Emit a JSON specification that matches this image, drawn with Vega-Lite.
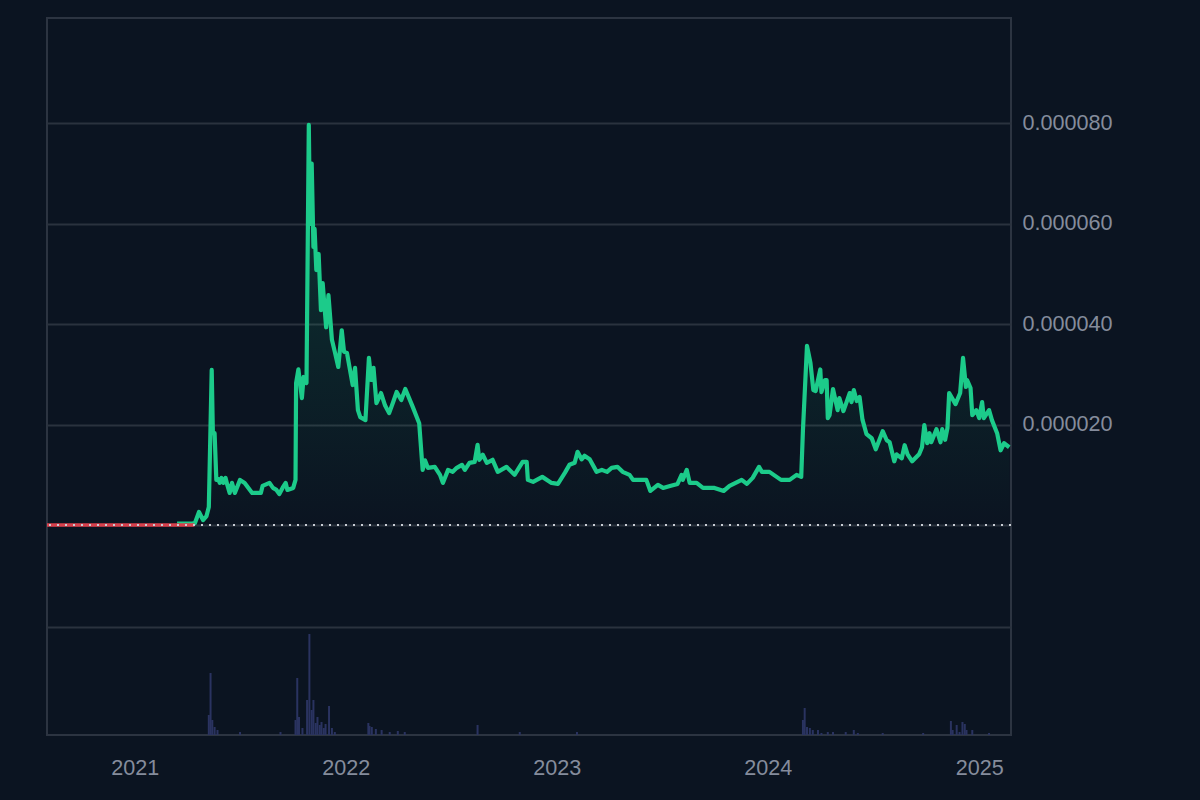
{
  "$schema": "https://vega.github.io/schema/vega-lite/v6.json",
  "width": 964,
  "height": 717,
  "autosize": {"type": "none"},
  "padding": {"left": 47, "top": 18, "right": 189, "bottom": 65},
  "background": "#0b1421",
  "config": {
    "view": {"stroke": "#2c3441", "strokeWidth": 2},
    "font": "Liberation Sans"
  },
  "datasets": {
    "flat": [
      {"date": "2020-08-02", "price": 0.00000002},
      {"date": "2020-10-01", "price": 0.00000002},
      {"date": "2020-12-01", "price": 0.00000002},
      {"date": "2021-02-01", "price": 0.00000002},
      {"date": "2021-03-20", "price": 0.00000002},
      {"date": "2021-04-14", "price": 0.00000004}
    ],
    "price": [
      {"date": "2021-03-15", "price": 0.0000003},
      {"date": "2021-04-10", "price": 0.0000003},
      {"date": "2021-04-15", "price": 0.0000004},
      {"date": "2021-04-22", "price": 0.0000026},
      {"date": "2021-04-29", "price": 0.000001},
      {"date": "2021-05-05", "price": 0.0000018},
      {"date": "2021-05-09", "price": 0.0000036},
      {"date": "2021-05-14", "price": 0.0000309},
      {"date": "2021-05-16", "price": 0.0000183},
      {"date": "2021-05-19", "price": 0.0000183},
      {"date": "2021-05-22", "price": 0.000009},
      {"date": "2021-05-25", "price": 0.0000092},
      {"date": "2021-05-28", "price": 0.0000084},
      {"date": "2021-05-31", "price": 0.0000094},
      {"date": "2021-06-03", "price": 0.0000084},
      {"date": "2021-06-07", "price": 0.0000094},
      {"date": "2021-06-10", "price": 0.000008},
      {"date": "2021-06-14", "price": 0.0000064},
      {"date": "2021-06-18", "price": 0.0000084},
      {"date": "2021-06-23", "price": 0.0000064},
      {"date": "2021-07-02", "price": 0.000009},
      {"date": "2021-07-10", "price": 0.0000084},
      {"date": "2021-07-23", "price": 0.0000064},
      {"date": "2021-08-07", "price": 0.0000064},
      {"date": "2021-08-10", "price": 0.0000078},
      {"date": "2021-08-22", "price": 0.0000084},
      {"date": "2021-08-28", "price": 0.0000074},
      {"date": "2021-09-03", "price": 0.000007},
      {"date": "2021-09-08", "price": 0.0000062},
      {"date": "2021-09-14", "price": 0.0000075},
      {"date": "2021-09-19", "price": 0.0000084},
      {"date": "2021-09-22", "price": 0.000007},
      {"date": "2021-10-02", "price": 0.0000074},
      {"date": "2021-10-06", "price": 0.000009},
      {"date": "2021-10-07", "price": 0.0000283},
      {"date": "2021-10-11", "price": 0.000031},
      {"date": "2021-10-17", "price": 0.0000253},
      {"date": "2021-10-20", "price": 0.0000295},
      {"date": "2021-10-25", "price": 0.0000283},
      {"date": "2021-10-29", "price": 0.0000797},
      {"date": "2021-10-31", "price": 0.00006},
      {"date": "2021-11-03", "price": 0.000072},
      {"date": "2021-11-06", "price": 0.0000554},
      {"date": "2021-11-08", "price": 0.000059},
      {"date": "2021-11-11", "price": 0.0000508},
      {"date": "2021-11-15", "price": 0.000054},
      {"date": "2021-11-19", "price": 0.0000428},
      {"date": "2021-11-22", "price": 0.0000482},
      {"date": "2021-11-28", "price": 0.0000394},
      {"date": "2021-12-02", "price": 0.0000458},
      {"date": "2021-12-08", "price": 0.0000369},
      {"date": "2021-12-13", "price": 0.0000345},
      {"date": "2021-12-19", "price": 0.0000315},
      {"date": "2021-12-25", "price": 0.0000388},
      {"date": "2021-12-29", "price": 0.0000345},
      {"date": "2022-01-03", "price": 0.0000343},
      {"date": "2022-01-13", "price": 0.0000279},
      {"date": "2022-01-17", "price": 0.0000313},
      {"date": "2022-01-22", "price": 0.0000229},
      {"date": "2022-01-26", "price": 0.0000215},
      {"date": "2022-02-04", "price": 0.0000209},
      {"date": "2022-02-10", "price": 0.0000333},
      {"date": "2022-02-14", "price": 0.0000289},
      {"date": "2022-02-18", "price": 0.0000313},
      {"date": "2022-02-23", "price": 0.0000243},
      {"date": "2022-03-03", "price": 0.0000263},
      {"date": "2022-03-10", "price": 0.0000238},
      {"date": "2022-03-17", "price": 0.0000223},
      {"date": "2022-03-24", "price": 0.0000245},
      {"date": "2022-03-30", "price": 0.0000265},
      {"date": "2022-04-07", "price": 0.0000249},
      {"date": "2022-04-14", "price": 0.0000271},
      {"date": "2022-04-27", "price": 0.0000235},
      {"date": "2022-05-08", "price": 0.0000203},
      {"date": "2022-05-14", "price": 0.000011},
      {"date": "2022-05-18", "price": 0.0000129},
      {"date": "2022-05-23", "price": 0.0000114},
      {"date": "2022-06-04", "price": 0.0000116},
      {"date": "2022-06-13", "price": 0.00001},
      {"date": "2022-06-18", "price": 0.0000084},
      {"date": "2022-06-27", "price": 0.000011},
      {"date": "2022-07-05", "price": 0.0000106},
      {"date": "2022-07-12", "price": 0.0000114},
      {"date": "2022-07-21", "price": 0.000012},
      {"date": "2022-07-26", "price": 0.000011},
      {"date": "2022-08-03", "price": 0.0000124},
      {"date": "2022-08-12", "price": 0.0000126},
      {"date": "2022-08-17", "price": 0.000016},
      {"date": "2022-08-20", "price": 0.000013},
      {"date": "2022-08-26", "price": 0.000014},
      {"date": "2022-09-02", "price": 0.0000124},
      {"date": "2022-09-12", "price": 0.000013},
      {"date": "2022-09-21", "price": 0.0000106},
      {"date": "2022-10-06", "price": 0.0000116},
      {"date": "2022-10-20", "price": 0.00001},
      {"date": "2022-11-03", "price": 0.0000126},
      {"date": "2022-11-10", "price": 0.0000126},
      {"date": "2022-11-12", "price": 0.000009},
      {"date": "2022-11-21", "price": 0.0000086},
      {"date": "2022-12-07", "price": 0.0000096},
      {"date": "2022-12-23", "price": 0.0000084},
      {"date": "2023-01-03", "price": 0.0000082},
      {"date": "2023-01-15", "price": 0.0000104},
      {"date": "2023-01-23", "price": 0.000012},
      {"date": "2023-02-01", "price": 0.0000124},
      {"date": "2023-02-06", "price": 0.0000146},
      {"date": "2023-02-13", "price": 0.0000131},
      {"date": "2023-02-18", "price": 0.0000138},
      {"date": "2023-02-27", "price": 0.0000131},
      {"date": "2023-03-11", "price": 0.0000106},
      {"date": "2023-03-20", "price": 0.000011},
      {"date": "2023-03-29", "price": 0.0000106},
      {"date": "2023-04-06", "price": 0.0000114},
      {"date": "2023-04-16", "price": 0.0000116},
      {"date": "2023-04-25", "price": 0.0000106},
      {"date": "2023-05-07", "price": 0.00001},
      {"date": "2023-05-13", "price": 0.000009},
      {"date": "2023-06-05", "price": 0.000009},
      {"date": "2023-06-12", "price": 0.0000068},
      {"date": "2023-06-25", "price": 0.000008},
      {"date": "2023-07-04", "price": 0.0000074},
      {"date": "2023-07-16", "price": 0.0000078},
      {"date": "2023-07-29", "price": 0.0000082},
      {"date": "2023-08-05", "price": 0.00001},
      {"date": "2023-08-07", "price": 0.000009},
      {"date": "2023-08-14", "price": 0.000011},
      {"date": "2023-08-19", "price": 0.0000084},
      {"date": "2023-08-31", "price": 0.0000084},
      {"date": "2023-09-11", "price": 0.0000074},
      {"date": "2023-10-01", "price": 0.0000074},
      {"date": "2023-10-17", "price": 0.0000068},
      {"date": "2023-10-27", "price": 0.0000078},
      {"date": "2023-11-17", "price": 0.000009},
      {"date": "2023-11-26", "price": 0.0000082},
      {"date": "2023-12-06", "price": 0.0000094},
      {"date": "2023-12-17", "price": 0.0000116},
      {"date": "2023-12-22", "price": 0.0000106},
      {"date": "2024-01-04", "price": 0.0000106},
      {"date": "2024-01-24", "price": 0.000009},
      {"date": "2024-02-08", "price": 0.000009},
      {"date": "2024-02-20", "price": 0.00001},
      {"date": "2024-02-28", "price": 0.0000096},
      {"date": "2024-03-02", "price": 0.0000189},
      {"date": "2024-03-09", "price": 0.0000357},
      {"date": "2024-03-15", "price": 0.0000323},
      {"date": "2024-03-20", "price": 0.0000269},
      {"date": "2024-03-24", "price": 0.0000267},
      {"date": "2024-04-01", "price": 0.000031},
      {"date": "2024-04-03", "price": 0.0000265},
      {"date": "2024-04-09", "price": 0.0000289},
      {"date": "2024-04-12", "price": 0.0000289},
      {"date": "2024-04-14", "price": 0.0000213},
      {"date": "2024-04-17", "price": 0.0000219},
      {"date": "2024-04-23", "price": 0.0000271},
      {"date": "2024-05-01", "price": 0.0000229},
      {"date": "2024-05-04", "price": 0.0000253},
      {"date": "2024-05-11", "price": 0.0000227},
      {"date": "2024-05-22", "price": 0.0000263},
      {"date": "2024-05-25", "price": 0.0000245},
      {"date": "2024-05-29", "price": 0.0000269},
      {"date": "2024-06-03", "price": 0.0000247},
      {"date": "2024-06-08", "price": 0.0000255},
      {"date": "2024-06-13", "price": 0.000021},
      {"date": "2024-06-20", "price": 0.0000181},
      {"date": "2024-06-29", "price": 0.0000173},
      {"date": "2024-07-06", "price": 0.0000151},
      {"date": "2024-07-18", "price": 0.0000187},
      {"date": "2024-07-25", "price": 0.0000169},
      {"date": "2024-07-30", "price": 0.0000165},
      {"date": "2024-08-07", "price": 0.0000127},
      {"date": "2024-08-11", "price": 0.0000141},
      {"date": "2024-08-20", "price": 0.0000133},
      {"date": "2024-08-25", "price": 0.0000159},
      {"date": "2024-08-30", "price": 0.0000141},
      {"date": "2024-09-07", "price": 0.0000127},
      {"date": "2024-09-19", "price": 0.0000141},
      {"date": "2024-09-24", "price": 0.0000155},
      {"date": "2024-09-28", "price": 0.0000199},
      {"date": "2024-10-03", "price": 0.0000163},
      {"date": "2024-10-07", "price": 0.0000183},
      {"date": "2024-10-10", "price": 0.0000165},
      {"date": "2024-10-19", "price": 0.0000191},
      {"date": "2024-10-26", "price": 0.0000165},
      {"date": "2024-10-29", "price": 0.0000191},
      {"date": "2024-11-03", "price": 0.000017},
      {"date": "2024-11-07", "price": 0.0000193},
      {"date": "2024-11-10", "price": 0.0000263},
      {"date": "2024-11-21", "price": 0.0000241},
      {"date": "2024-11-29", "price": 0.0000263},
      {"date": "2024-12-04", "price": 0.0000333},
      {"date": "2024-12-09", "price": 0.0000275},
      {"date": "2024-12-11", "price": 0.0000289},
      {"date": "2024-12-17", "price": 0.0000273},
      {"date": "2024-12-20", "price": 0.0000219},
      {"date": "2024-12-27", "price": 0.0000229},
      {"date": "2025-01-01", "price": 0.0000213},
      {"date": "2025-01-06", "price": 0.0000245},
      {"date": "2025-01-09", "price": 0.0000213},
      {"date": "2025-01-18", "price": 0.0000229},
      {"date": "2025-01-23", "price": 0.0000209},
      {"date": "2025-02-01", "price": 0.0000183},
      {"date": "2025-02-07", "price": 0.0000149},
      {"date": "2025-02-13", "price": 0.0000163},
      {"date": "2025-02-22", "price": 0.0000155}
    ],
    "volume": [
      {"date": "2021-05-09", "volume": 20},
      {"date": "2021-05-12", "volume": 62},
      {"date": "2021-05-15", "volume": 15},
      {"date": "2021-05-19", "volume": 8},
      {"date": "2021-05-24", "volume": 5},
      {"date": "2021-07-02", "volume": 3},
      {"date": "2021-09-10", "volume": 3},
      {"date": "2021-10-06", "volume": 15},
      {"date": "2021-10-09", "volume": 57},
      {"date": "2021-10-12", "volume": 18},
      {"date": "2021-10-18", "volume": 7},
      {"date": "2021-10-26", "volume": 35},
      {"date": "2021-10-30", "volume": 101},
      {"date": "2021-11-03", "volume": 25},
      {"date": "2021-11-06", "volume": 35},
      {"date": "2021-11-10", "volume": 12},
      {"date": "2021-11-13", "volume": 18},
      {"date": "2021-11-17", "volume": 10},
      {"date": "2021-11-20", "volume": 13},
      {"date": "2021-11-24", "volume": 7},
      {"date": "2021-11-27", "volume": 11},
      {"date": "2021-12-03", "volume": 29},
      {"date": "2021-12-08", "volume": 7},
      {"date": "2021-12-13", "volume": 3},
      {"date": "2022-02-09", "volume": 12},
      {"date": "2022-02-11", "volume": 9},
      {"date": "2022-02-15", "volume": 8},
      {"date": "2022-02-22", "volume": 6},
      {"date": "2022-03-04", "volume": 5},
      {"date": "2022-03-18", "volume": 3},
      {"date": "2022-04-01", "volume": 4},
      {"date": "2022-04-13", "volume": 3},
      {"date": "2022-08-17", "volume": 10},
      {"date": "2022-10-29", "volume": 3},
      {"date": "2023-02-05", "volume": 3},
      {"date": "2024-03-02", "volume": 15},
      {"date": "2024-03-05", "volume": 27},
      {"date": "2024-03-09", "volume": 8},
      {"date": "2024-03-14", "volume": 7},
      {"date": "2024-03-19", "volume": 5},
      {"date": "2024-03-28", "volume": 5},
      {"date": "2024-04-03", "volume": 2},
      {"date": "2024-04-14", "volume": 3},
      {"date": "2024-04-23", "volume": 3},
      {"date": "2024-05-15", "volume": 3},
      {"date": "2024-05-29", "volume": 5},
      {"date": "2024-06-05", "volume": 2},
      {"date": "2024-07-18", "volume": 2},
      {"date": "2024-09-26", "volume": 2},
      {"date": "2024-11-13", "volume": 14},
      {"date": "2024-11-16", "volume": 5},
      {"date": "2024-11-23", "volume": 10},
      {"date": "2024-11-28", "volume": 3},
      {"date": "2024-12-03", "volume": 13},
      {"date": "2024-12-07", "volume": 11},
      {"date": "2024-12-10", "volume": 5},
      {"date": "2024-12-20", "volume": 5},
      {"date": "2025-01-18", "volume": 2}
    ]
  },
  "layer": [
    {
      "layer": [
        {
          "data": {"name": "price"},
          "mark": {
            "type": "area",
            "fill": {
              "gradient": "linear",
              "x1": 0, "y1": 0, "x2": 0, "y2": 1,
              "stops": [
                {"offset": 0, "color": "rgba(22,199,132,0.2)"},
                {"offset": 1, "color": "rgba(22,199,132,0)"}
              ]
            }
          },
          "encoding": {
            "x": {
              "field": "date",
              "type": "temporal",
              "title": null,
              "scale": {"domain": ["2020-08-02", "2025-02-25"], "nice": false, "padding": 0},
              "axis": {
                "orient": "bottom",
                "tickCount": {"interval": "year", "step": 1},
                "format": "%Y",
                "grid": false,
                "domain": false,
                "ticks": false,
                "labelPadding": 22,
                "labelFontSize": 21.6,
                "labelColor": "#858c9c"
              }
            },
            "y": {
              "field": "price",
              "type": "quantitative",
              "title": null,
              "scale": {"domain": [-0.0000203, 0.000101], "range": [609, 0], "nice": false, "zero": false},
              "axis": {
                "orient": "right",
                "values": [0, 0.00002, 0.00004, 0.00006, 0.00008],
                "labelExpr": "datum.value == 0 ? '' : format(datum.value, '.6f')",
                "grid": true,
                "gridColor": "#2a323e",
                "gridWidth": 2,
                "domain": false,
                "ticks": false,
                "labelPadding": 11,
                "labelFontSize": 21.6,
                "labelColor": "#858c9c"
              }
            }
          }
        },
        {
          "data": {"name": "price"},
          "mark": {"type": "line", "color": "#1ccb8a", "strokeWidth": 4.2, "strokeJoin": "round"},
          "encoding": {
            "x": {"field": "date", "type": "temporal", "title": null},
            "y": {"field": "price", "type": "quantitative", "title": null}
          }
        },
        {
          "data": {"name": "flat"},
          "mark": {"type": "line", "color": "#d8404c", "strokeWidth": 3.5},
          "encoding": {
            "x": {"field": "date", "type": "temporal", "title": null},
            "y": {"field": "price", "type": "quantitative", "title": null}
          }
        },
        {
          "data": {"values": [{"baseline": 0}]},
          "mark": {"type": "rule", "color": "#c9cdd4", "strokeWidth": 2, "strokeDash": [2, 6]},
          "encoding": {
            "y": {"field": "baseline", "type": "quantitative", "title": null}
          }
        }
      ]
    },
    {
      "data": {"name": "volume"},
      "mark": {"type": "bar", "color": "#2a3360", "size": 2},
      "encoding": {
        "x": {"field": "date", "type": "temporal", "title": null},
        "y": {
          "field": "volume",
          "type": "quantitative",
          "title": null,
          "scale": {"domain": [0, 108], "range": [717, 609], "nice": false},
          "axis": {
            "orient": "left",
            "values": [108],
            "labels": false,
            "ticks": false,
            "domain": false,
            "grid": true,
            "gridColor": "#2a323e",
            "gridWidth": 2
          }
        }
      }
    }
  ],
  "resolve": {"scale": {"y": "independent"}, "axis": {"y": "independent"}}
}
